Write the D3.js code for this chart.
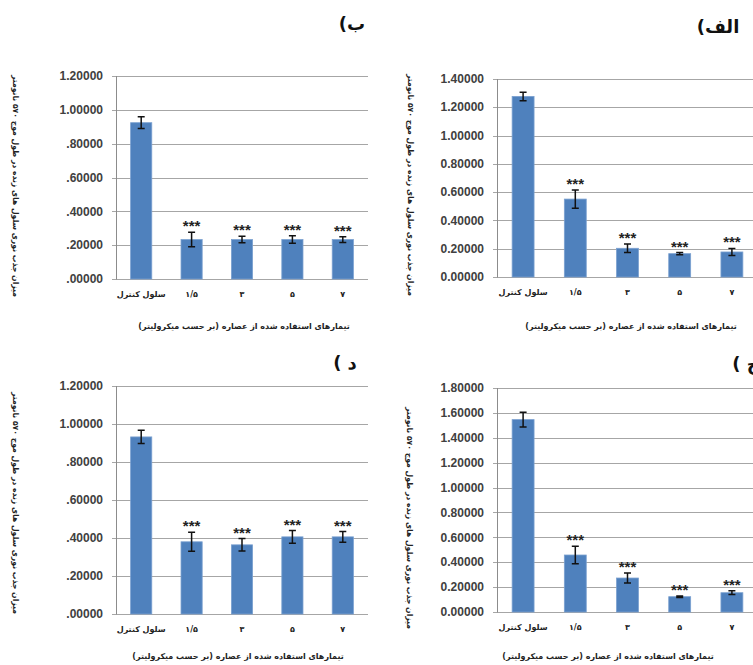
<!DOCTYPE html>
<html>
<head>
<meta charset="utf-8">
<script src="https://cdn.jsdelivr.net/npm/d3@7"></script>
<style>
  body { margin: 0; background: #fff; }
  svg { display: block; }
  .tick-label { font-family: "Liberation Sans", Arial, sans-serif; font-weight: bold; font-size: 12px; fill: #404040; }
  .fa { font-family: "DejaVu Sans", sans-serif; font-weight: bold; fill: #222; }
  .grid { stroke: #a6a6a6; stroke-width: 1; }
  .axis-line { stroke: #8c8c8c; stroke-width: 1; }
  .bar { fill: #4f81bd; stroke: #7aa0d0; stroke-width: 0.8; }
  .err { stroke: #111; stroke-width: 1.5; fill: none; }
  .stars { font-family: "Liberation Sans", Arial, sans-serif; font-weight: bold; font-size: 15px; fill: #222; }
</style>
</head>
<body>
<div class="content"></div>
<script>
var svgWidth = 753;   // page width
var svgHeight = 665;  // page height

// Categories shared by all four panels.
var categories = ["سلول کنترل", "۱/۵", "۳", "۵", "۷"];

// Panel الف (top right).
var valuesAlef = [1.277, 0.551, 0.203, 0.165, 0.177];
var errorsAlef = [0.030, 0.065, 0.030, 0.008, 0.025];
var starsAlef = ["", "***", "***", "***", "***"];
var ticksAlef = [0, 0.2, 0.4, 0.6, 0.8, 1.0, 1.2, 1.4];

// Panel ب (top left).
var valuesBe = [0.924, 0.233, 0.233, 0.233, 0.233];
var errorsBe = [0.035, 0.043, 0.019, 0.022, 0.017];
var starsBe = ["", "***", "***", "***", "***"];
var ticksBe = [0, 0.2, 0.4, 0.6, 0.8, 1.0, 1.2];

// Panel ج (bottom right).
var valuesJim = [1.546, 0.458, 0.273, 0.123, 0.155];
var errorsJim = [0.060, 0.070, 0.040, 0.006, 0.015];
var starsJim = ["", "***", "***", "***", "***"];
var ticksJim = [0, 0.2, 0.4, 0.6, 0.8, 1.0, 1.2, 1.4, 1.6, 1.8];

// Panel د (bottom left).
var valuesDal = [0.932, 0.380, 0.364, 0.406, 0.406];
var errorsDal = [0.035, 0.050, 0.033, 0.033, 0.028];
var starsDal = ["", "***", "***", "***", "***"];
var ticksDal = [0, 0.2, 0.4, 0.6, 0.8, 1.0, 1.2];

var titles = ["الف)", "ب)", "ج )", "د )"];
var yTitle = "میزان جذب نوری سلول های زنده در طول موج ۵۷۰ نانومتر";
var xTitle = "تیمارهای استفاده شده از عصاره  (بر حسب میکرولیتر)";

var svg = d3.select(".content")
  .append("svg")
  .attr("width", svgWidth)
  .attr("height", svgHeight);

// Layout of each panel (plot box, title position, label positions).
var panels = [
  { values: valuesAlef, errors: errorsAlef, stars: starsAlef, ticks: ticksAlef, title: titles[0],
    left: 497, right: 758, top: 79, bottom: 277, lead: true,
    titleX: 718, titleY: 33, yTitleX: 411, yTitleY: 185, xTitleX: 631, xTitleY: 329 },
  { values: valuesBe, errors: errorsBe, stars: starsBe, ticks: ticksBe, title: titles[1],
    left: 116, right: 368, top: 76, bottom: 279, lead: false,
    titleX: 352, titleY: 30, yTitleX: 16, yTitleY: 186, xTitleX: 244, xTitleY: 329 },
  { values: valuesJim, errors: errorsJim, stars: starsJim, ticks: ticksJim, title: titles[2],
    left: 497, right: 758, top: 388, bottom: 612, lead: true,
    titleX: 746, titleY: 370, yTitleX: 410, yTitleY: 518, xTitleX: 608, xTitleY: 659 },
  { values: valuesDal, errors: errorsDal, stars: starsDal, ticks: ticksDal, title: titles[3],
    left: 116, right: 368, top: 386, bottom: 614, lead: false,
    titleX: 345, titleY: 369, yTitleX: 16, yTitleY: 503, xTitleX: 238, xTitleY: 659 }
];

panels.forEach(drawPanel);

function drawPanel(p)
{
  var maxTick = p.ticks[p.ticks.length - 1];

  var x = d3.scaleBand()
    .domain(categories)
    .range([p.left, p.right])
    .paddingInner(0.58)
    .paddingOuter(0.29);

  var y = d3.scaleLinear()
    .domain([0, maxTick])
    .range([p.bottom, p.top]);

  var fmt = d3.format(".5f");
  var tickFormat = function(d) {
    var s = fmt(d);
    // The left-hand charts drop the leading zero.
    return (!p.lead && s.charAt(0) === "0") ? s.slice(1) : s;
  };

  var g = svg.append("g");

  // Horizontal gridlines.
  g.selectAll("line.grid")
    .data(p.ticks)
    .enter().append("line")
    .classed("grid", true)
    .attr("x1", p.left - 4)
    .attr("x2", p.right)
    .attr("y1", function(d) { return Math.round(y(d)) + 0.5; })
    .attr("y2", function(d) { return Math.round(y(d)) + 0.5; });

  // Left axis line.
  g.append("line")
    .classed("axis-line", true)
    .attr("x1", p.left + 0.5)
    .attr("x2", p.left + 0.5)
    .attr("y1", y(maxTick))
    .attr("y2", y(0) + 0.5);

  // Tick labels.
  g.selectAll("text.tick-label")
    .data(p.ticks)
    .enter().append("text")
    .classed("tick-label", true)
    .attr("x", p.left - 13)
    .attr("y", function(d) { return y(d); })
    .attr("dy", "0.35em")
    .attr("text-anchor", "end")
    .text(tickFormat);

  // Bars.
  g.selectAll("rect.bar")
    .data(p.values)
    .enter().append("rect")
    .classed("bar", true)
    .attr("x", function(d, i) { return x(categories[i]); })
    .attr("width", x.bandwidth())
    .attr("y", function(d) { return y(d); })
    .attr("height", function(d) { return y(0) - y(d); });

  // Error bars.
  var cap = 3.5;
  p.values.forEach(function(v, i) {
    var cx = x(categories[i]) + x.bandwidth() / 2;
    var hi = y(v + p.errors[i]);
    var lo = y(v - p.errors[i]);
    g.append("path")
      .classed("err", true)
      .attr("d", "M" + cx + "," + hi + "L" + cx + "," + lo +
                 "M" + (cx - cap) + "," + hi + "L" + (cx + cap) + "," + hi +
                 "M" + (cx - cap) + "," + lo + "L" + (cx + cap) + "," + lo);
  });

  // Significance stars above the error bars.
  g.selectAll("text.stars")
    .data(p.stars)
    .enter().append("text")
    .classed("stars", true)
    .attr("x", function(d, i) { return x(categories[i]) + x.bandwidth() / 2; })
    .attr("y", function(d, i) { return y(p.values[i] + p.errors[i]) - 1; })
    .attr("text-anchor", "middle")
    .text(function(d) { return d; });

  // Category labels.
  g.selectAll("text.cat")
    .data(categories)
    .enter().append("text")
    .attr("class", "fa cat")
    .attr("x", function(d) { return x(d) + x.bandwidth() / 2; })
    .attr("y", y(0) + 18)
    .attr("text-anchor", "middle")
    .attr("direction", "rtl")
    .style("font-size", "8px")
    .text(function(d) { return d; });

  // Panel title.
  g.append("text")
    .attr("class", "fa")
    .attr("x", p.titleX)
    .attr("y", p.titleY)
    .attr("text-anchor", "middle")
    .attr("direction", "rtl")
    .style("font-size", "18px")
    .style("fill", "#111")
    .text(p.title);

  // Y axis title (vertical, start of the sentence at the bottom).
  g.append("text")
    .attr("class", "fa")
    .attr("transform", "translate(" + p.yTitleX + "," + p.yTitleY + ") rotate(90)")
    .attr("text-anchor", "middle")
    .attr("direction", "rtl")
    .attr("dy", "0.35em")
    .attr("textLength", 222)
    .attr("lengthAdjust", "spacingAndGlyphs")
    .style("font-size", "8px")
    .text(yTitle);

  // X axis title.
  g.append("text")
    .attr("class", "fa")
    .attr("x", p.xTitleX)
    .attr("y", p.xTitleY)
    .attr("text-anchor", "middle")
    .attr("direction", "rtl")
    .style("font-size", "8px")
    .text(xTitle);
}
</script>
</body>
</html>
